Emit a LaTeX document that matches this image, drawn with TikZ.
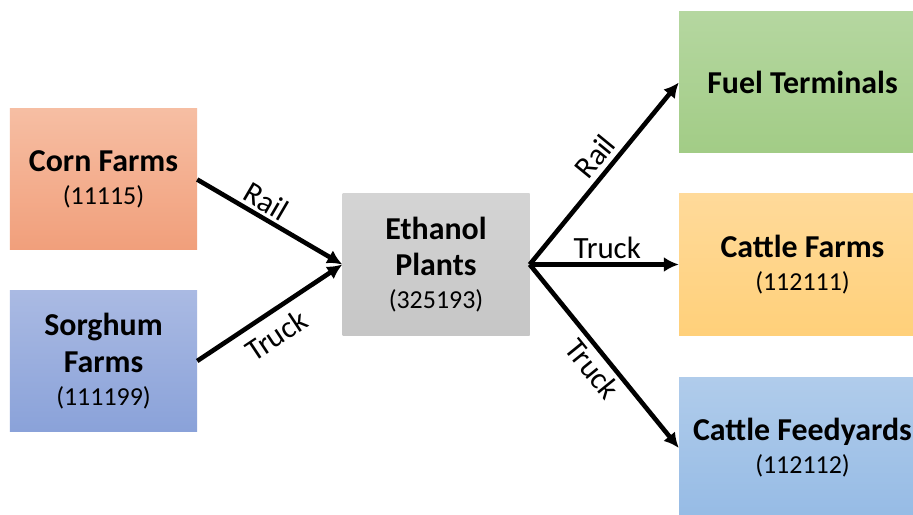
\documentclass[tikz,border=0pt]{standalone}
\usepackage{fontspec}
\setmainfont{Carlito}
\usetikzlibrary{arrows.meta,shadings}
\definecolor{cornT}{HTML}{F6BEA3}
\definecolor{cornB}{HTML}{F19F7B}
\definecolor{sorgT}{HTML}{AABAE3}
\definecolor{sorgB}{HTML}{8AA2D9}
\definecolor{ethT}{HTML}{D4D4D4}
\definecolor{ethB}{HTML}{C6C6C6}
\definecolor{fuelT}{HTML}{B5D7A0}
\definecolor{fuelB}{HTML}{A2CC86}
\definecolor{cfT}{HTML}{FFDA9A}
\definecolor{cfB}{HTML}{FFD07A}
\definecolor{fyT}{HTML}{B0CCEB}
\definecolor{fyB}{HTML}{96BBE5}
\begin{document}
\begin{tikzpicture}[x=1bp,y=-1bp,
  box/.style={minimum width=187bp,minimum height=141bp,inner sep=0pt,
    align=center,font=\fontsize{32}{37}\selectfont\bfseries},
  widebox/.style={box,minimum width=247bp},
  flow/.style={line width=4.6bp,-{Latex[length=15bp,width=15bp]}},
  mode/.style={font=\fontsize{31}{32}\selectfont,sloped,inner sep=3bp},
]
\newcommand{\code}[1]{\\[-4bp]{\fontsize{26}{27}\selectfont\mdseries(#1)}}
\clip (0,0) rectangle (913,515);
\fill[white] (0,0) rectangle (913,515);

\node[box,top color=cornT,bottom color=cornB] (corn) at (103.5,179.5)
  {Corn Farms\code{11115}};
\node[box,top color=sorgT,bottom color=sorgB] (sorg) at (103.5,361)
  {Sorghum\\Farms\code{111199}};
\node[box,top color=ethT,bottom color=ethB] (eth) at (436,264.5)
  {Ethanol\\Plants\code{325193}};
\node[widebox,top color=fuelT,bottom color=fuelB] (fuel) at (802.5,82.5)
  {Fuel Terminals};
\node[widebox,top color=cfT,bottom color=cfB] (cattle) at (802.5,264.5)
  {Cattle Farms\code{112111}};
\node[widebox,top color=fyT,bottom color=fyB] (feed) at (802.5,448)
  {Cattle Feedyards\code{112112}};

\draw[flow] (corn.east) -- node[mode,above,pos=0.42] {Rail} (eth.west);
\draw[flow] (sorg.east) -- node[mode,below,pos=0.46,inner sep=9bp] {Truck} (eth.west);
\draw[flow] (eth.east) -- node[mode,above,pos=0.53,inner sep=5bp] {Rail} (fuel.west);
\draw[flow] (eth.east) -- node[mode,above,pos=0.52] {Truck} (cattle.west);
\draw[flow] (eth.east) -- node[mode,below,pos=0.51,inner sep=4bp] {Truck} (feed.west);
\end{tikzpicture}
\end{document}
